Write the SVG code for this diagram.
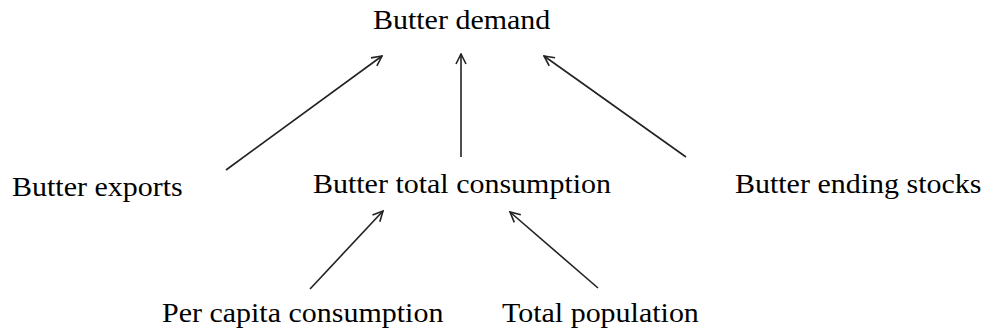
<svg xmlns="http://www.w3.org/2000/svg" width="987" height="332" viewBox="0 0 987 332">
<style>
text{font-family:"Liberation Serif","Times New Roman",serif;font-size:30px;fill:#000}
.c line{stroke:#222;stroke-width:1.6;marker-end:url(#ah)}
</style>
<defs>
<marker id="ah" viewBox="0 0 12 12" refX="11" refY="6" markerWidth="12" markerHeight="12" markerUnits="userSpaceOnUse" orient="auto">
<path d="M1,1 L11,6 L1,11" fill="none" stroke="#222" stroke-width="1.6"/>
</marker>
</defs>
<rect width="987" height="332" fill="#fff"/>
<g id="demand"><text x="373" y="29" transform="translate(0,2.9) scale(1,0.9)">Butter demand</text></g>
<g id="exports"><text x="12" y="196" transform="translate(0,19.6) scale(1,0.9)">Butter exports</text></g>
<g id="total"><text x="313" y="193" transform="translate(0,19.3) scale(1,0.9)">Butter total consumption</text></g>
<g id="stocks"><text x="735" y="193" transform="translate(0,19.3) scale(1,0.9)">Butter ending stocks</text></g>
<g id="percapita"><text x="162" y="322" transform="translate(0,32.2) scale(1,0.9)">Per capita consumption</text></g>
<g id="population"><text x="502" y="322" transform="translate(0,32.2) scale(1,0.9)">Total population</text></g>
<g class="c" id="connectors">
<line x1="226" y1="170" x2="382" y2="56"/>
<line x1="461" y1="157" x2="461" y2="54"/>
<line x1="686" y1="157" x2="544" y2="56"/>
<line x1="310" y1="289" x2="383" y2="211"/>
<line x1="598" y1="288" x2="510" y2="212"/>
</g>
</svg>
